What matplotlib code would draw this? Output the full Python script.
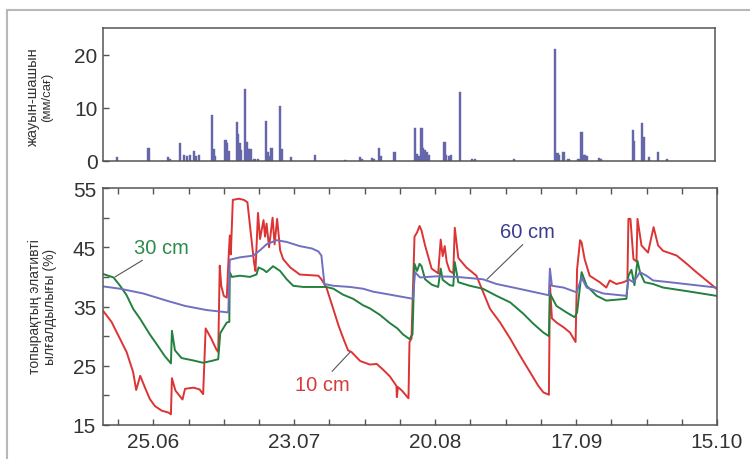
import pandas as pd
import matplotlib
matplotlib.use("Agg")
import matplotlib.pyplot as plt
from matplotlib.lines import Line2D

plt.rcParams['font.family'] = ['Liberation Sans', 'DejaVu Sans']

# Дата отсчёта: 15.06, значения x в сутках от неё
start = pd.Timestamp('2010-06-15')
n_days = 122

tick_dates = ['2010-06-25', '2010-07-23', '2010-08-20', '2010-09-17', '2010-10-15']
tick_labels = ['25.06', '23.07', '20.08', '17.09', '15.10']

# Осадки (мм/сағ)
rain_days = [2.8, 9.1, 13.0, 13.3, 15.3, 16.2, 16.7, 17.3, 18.1, 18.6, 19.2,
             21.8, 22.1, 22.4, 24.4, 24.7, 25.0, 26.7, 26.9, 27.2, 27.5,
             28.3, 28.6, 29.0, 29.4, 30.2, 30.9, 32.5, 32.9, 33.2, 33.6,
             35.3, 35.7, 37.5, 42.3, 48.3, 51.2, 51.6, 53.6, 54.1, 55.0, 55.4, 58.1,
             62.2, 62.5, 63.0, 63.5, 63.8, 64.2, 64.6, 64.9, 68.1, 68.4, 69.0, 69.4,
             71.1, 73.5, 74.1, 81.9, 90.1, 90.6, 90.9, 91.8, 92.8, 94.8, 95.4, 95.8,
             96.1, 96.4, 98.9, 99.2, 105.6, 105.9, 107.5, 107.9, 108.9, 110.7, 112.5]
rain_vals = [0.75, 2.4, 0.75, 0.4, 3.4, 1.1, 0.9, 1.2, 1.9, 1.0, 1.1,
             8.7, 2.3, 0.9, 4.0, 3.4, 1.8, 7.3, 5.0, 3.4, 2.1,
             13.5, 3.6, 2.2, 2.2, 0.4, 0.3, 7.5, 1.6, 1.0, 2.5,
             10.3, 2.2, 0.8, 1.2, 0.2, 0.75, 0.4, 0.6, 0.4, 2.5, 0.9, 1.7,
             6.2, 1.3, 1.0, 6.1, 2.5, 2.0, 1.7, 1.2, 3.6, 1.2, 0.9, 1.1,
             13.0, 0.3, 0.3, 0.3, 21.0, 1.4, 1.2, 1.7, 0.3, 0.4, 5.5, 1.2,
             1.2, 1.0, 0.6, 0.4, 5.9, 3.7, 7.2, 4.5, 0.7, 1.6, 0.4]

# Влажность почвы, 10 cm
d10 = [0, 1.7, 3.4, 4.7, 6.0, 6.6, 7.4, 8.3, 9.3, 10.3, 11.7, 13.0, 13.5, 13.7,
       14.4, 15.8, 16.3, 18.0, 19.2, 19.9, 20.4, 21.5, 22.5, 22.9, 23.2, 23.5,
       24.0, 24.6, 25.0, 25.2, 25.4, 25.8, 27.0, 28.0, 28.7, 29.3, 30.0, 30.3,
       30.8, 31.2, 31.9, 32.2, 32.5, 33.0, 33.7, 34.1, 34.6, 35.2, 35.8, 37.2,
       39.1, 41.1, 42.8, 43.4, 44.4, 45.8, 46.8, 47.8, 48.7, 49.4, 51.1, 53.0,
       54.4, 55.7, 57.0, 58.3, 58.4, 58.6, 59.4, 60.7, 60.9, 61.3, 61.9, 62.4,
       62.9, 63.3, 64.0, 65.3, 66.6, 67.1, 67.5, 67.9, 68.3, 68.9, 69.6, 69.9,
       70.6, 72.2, 74.2, 75.5, 76.9, 78.9, 80.9, 82.8, 84.8, 86.5, 87.5, 88.6,
       88.8, 89.2, 90.1, 91.5, 92.8, 93.9, 94.2, 94.8, 95.1, 95.7, 96.7, 98.7,
       100.0, 100.7, 102.0, 103.4, 104.2, 104.4, 104.8, 105.4, 106.0, 106.2,
       106.6, 107.0, 108.3, 109.4, 110.3, 111.3, 114.0, 116.0, 117.9, 119.9, 121.9]
v10 = [34.3, 32.4, 29.5, 27.3, 23.9, 20.9, 23.3, 21.4, 19.4, 18.2, 17.4, 17.1, 16.8, 22.9,
       20.8, 19.3, 21.1, 21.3, 21.0, 20.2, 31.3, 29.6, 27.8, 27.3, 41.9, 38.5,
       36.8, 36.5, 44.0, 47.0, 43.8, 53.0, 53.2, 53.0, 52.6, 48.0, 42.5, 41.0,
       50.8, 46.4, 49.6, 46.8, 49.0, 45.0, 50.0, 45.5, 49.8, 44.5, 43.0, 41.6,
       40.4, 40.3, 40.2, 39.6, 38.2, 34.5, 31.8, 29.5, 27.6, 27.3, 25.8, 25.2,
       25.3, 24.3, 23.2, 21.6, 19.7, 21.4, 20.8, 19.5, 29.0, 29.6, 46.8, 47.5,
       48.6, 47.8, 45.3, 41.4, 40.6, 46.3, 43.5, 45.2, 42.5, 41.0, 40.6, 48.3,
       43.2, 41.6, 40.2, 37.5, 34.6, 32.3, 29.6, 26.8, 24.0, 21.6, 20.5, 20.1,
       38.8, 33.0, 32.3, 31.5, 30.6, 29.0, 41.3, 46.2, 45.8, 43.0, 40.2, 39.1,
       38.2, 39.4, 38.8, 39.1, 39.4, 49.8, 49.8, 43.0, 42.6, 49.8,
       47.5, 45.3, 44.1, 48.4, 45.3, 44.4, 43.6, 42.2, 40.8, 39.4, 38.0]

# 30 cm
d30 = [0, 2.1, 3.4, 4.7, 6.0, 7.4, 9.3, 10.7, 12.3, 13.5, 13.7, 14.3, 15.6, 17.9,
       19.9, 21.5, 22.9, 23.3, 24.6, 25.1, 25.2, 25.6, 27.2, 29.2, 30.5, 30.9,
       31.9, 32.5, 33.8, 35.2, 36.5, 37.8, 39.8, 42.5, 44.4, 45.8, 47.7, 49.7,
       51.7, 53.0, 55.0, 57.0, 58.5, 59.6, 60.9, 61.5, 61.9, 62.4, 62.9, 63.3,
       64.0, 65.3, 66.6, 67.1, 67.5, 68.9, 69.6, 69.9, 70.6, 72.9, 75.5, 78.2,
       80.9, 83.5, 85.5, 87.5, 88.6, 88.8, 90.1, 92.1, 93.7, 94.2, 95.1, 96.1,
       98.1, 100.0, 104.0, 104.4, 105.0, 105.6, 106.2, 106.7, 107.6, 109.3,
       111.3, 116.0, 121.9]
v30 = [40.5, 39.9, 38.5, 36.9, 34.6, 32.9, 30.3, 28.6, 26.6, 25.4, 30.9, 27.6, 26.3, 25.9,
       25.5, 25.8, 26.1, 30.5, 32.3, 32.4, 40.8, 40.0, 40.2, 40.0, 40.4, 41.6,
       41.2, 40.8, 41.8, 41.0, 39.6, 38.5, 38.3, 38.3, 38.3, 38.0, 37.0, 36.3,
       35.2, 34.7, 33.6, 32.2, 31.3, 30.3, 29.5, 30.3, 42.2, 41.0, 42.2, 41.8,
       39.6, 38.7, 38.3, 41.4, 39.5, 38.6, 38.5, 42.5, 39.1, 38.5, 38.0, 36.8,
       35.7, 33.8, 32.1, 30.6, 30.0, 37.2, 35.1, 34.0, 33.2, 34.0, 40.8, 38.5,
       36.8, 36.0, 36.3, 40.2, 41.2, 38.6, 42.7, 40.8, 39.1, 38.8,
       38.2, 37.6, 36.8]

# 60 cm
d60 = [0, 3.4, 8.0, 12.6, 16.3, 20.6, 24.9, 25.2, 27.2, 29.9, 31.2, 32.5, 34.5,
       36.5, 39.1, 41.5, 42.8, 43.4, 44.0, 45.8, 49.1, 51.7, 53.7, 56.4, 59.0,
       61.6, 62.0, 63.0, 66.3, 70.3, 75.5, 78.2, 82.1, 88.6, 88.8, 89.2, 91.5,
       94.1, 95.1, 96.1, 99.4, 104.0, 104.4, 105.4, 106.7, 108.0, 109.3, 112.6, 121.9]
v60 = [38.4, 38.0, 37.2, 36.0, 35.1, 34.4, 34.0, 42.9, 43.3, 43.6, 44.5, 45.5, 46.2,
       45.9, 45.2, 44.8, 44.3, 43.6, 38.8, 38.5, 38.3, 38.0, 37.5, 37.1, 36.7,
       36.3, 40.8, 39.9, 40.1, 40.0, 39.6, 38.8, 38.1, 36.9, 41.4, 38.5, 38.2,
       37.4, 39.9, 38.2, 37.2, 36.8, 39.6, 39.1, 40.8, 40.2, 39.4, 39.1, 38.2]

# Подписи кривых: текст, положение текста (сутки, %), точка на кривой
labels = ['10 cm', '30 cm', '60 cm']
label_xy = [(43.5, 21.8), (11.7, 45.0), (84.4, 47.7)]
label_target = [(49.1, 27.3), (2.4, 40.0), (76.3, 39.6)]
label_relpos = [(0.62, 1.0), (0.25, 0.0), (0.48, 0.0)]

line_colors = ['#dc3434', '#23803f', '#7070c0']
text_colors = ['#d83a3a', '#2e8a4e', '#3c3c8e']
bar_color = '#6666ab'
spine_color = '#555555'
tick_color = '#333333'


def days(d):
    return start + pd.to_timedelta(d, unit='D')


fig = plt.figure(figsize=(7.5, 4.6), dpi=100)
ax1 = fig.add_axes([0.1373, 0.648, 0.8160, 0.289])
ax2 = fig.add_axes([0.1373, 0.074, 0.8187, 0.515])

# серая рамка рисунка
fig.add_artist(Line2D([0.0093, 0.0093], [0.0, 0.976], color='#b8b8b8', lw=1.5))
fig.add_artist(Line2D([0.0093, 1.0], [0.976, 0.976], color='#b8b8b8', lw=1.5))

xmin, xmax = days(0), days(n_days)

# --- осадки ---
ax1.bar(days(rain_days), rain_vals, width=0.45, color=bar_color, edgecolor=bar_color, lw=0.3)
ax1.set_xlim(xmin, xmax)
ax1.set_ylim(0, 25)
ax1.set_yticks([0, 10, 20])
ax1.set_xticks([])
ax1.tick_params(axis='y', direction='in', length=4, width=1, color=spine_color,
                labelsize=15, labelcolor=tick_color, pad=4)

# --- влажность ---
for d, v, c in zip([d10, d30, d60], [v10, v30, v60], line_colors):
    ax2.plot(days(d), v, color=c, lw=1.4)

ax2.set_xlim(xmin, xmax)
ax2.set_ylim(15, 55)
ax2.set_yticks([15, 25, 35, 45, 55])
ax2.set_yticks([20, 30, 40, 50], minor=True)
ax2.set_xticks(pd.to_datetime(tick_dates), tick_labels)
ax2.set_xticks(pd.date_range('2010-06-18', '2010-10-15', freq='7D'), minor=True)
ax2.tick_params(which='both', direction='in', length=4, width=1, color=spine_color,
                top=True, labelsize=15, labelcolor=tick_color, pad=5)

for name, xy, tgt, rp, tc in zip(labels, label_xy, label_target, label_relpos, text_colors):
    ax2.annotate(name, xy=(days(tgt[0]), tgt[1]), xytext=(days(xy[0]), xy[1]),
                 ha='center', va='center', fontsize=14.5, color=tc,
                 arrowprops=dict(arrowstyle='-', color='#555555', lw=0.8,
                                 relpos=rp, shrinkA=1, shrinkB=0))

for ax in (ax1, ax2):
    for s in ax.spines.values():
        s.set_color(spine_color)
        s.set_linewidth(1.1)

# подписи осей y
fig.text(33 / 750, 1 - 97 / 460, 'жауын-шашын', rotation=90, ha='center', va='center',
         fontsize=10.5, color='#333333')
fig.text(47 / 750, 1 - 97 / 460, '(мм/сағ)', rotation=90, ha='center', va='center',
         fontsize=9.5, color='#333333')
fig.text(35 / 750, 1 - 307 / 460, 'топырақтың элативті', rotation=90, ha='center', va='center',
         fontsize=10, color='#333333')
fig.text(50 / 750, 1 - 307 / 460, 'ылғалдылығы (%)', rotation=90, ha='center', va='center',
         fontsize=10, color='#333333')

fig.savefig('out.png', dpi=100)
